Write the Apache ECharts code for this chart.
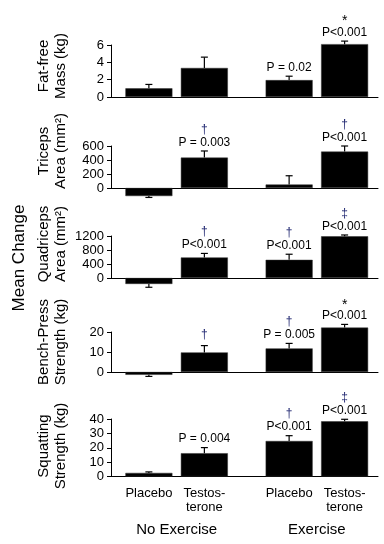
<!DOCTYPE html>
<html><head><meta charset="utf-8">
<script src="https://cdn.jsdelivr.net/npm/echarts@6/dist/echarts.min.js"></script>
<style>html,body{margin:0;padding:0;background:#fff}#c{width:384px;height:544px}</style>
</head><body><div id="c"></div>
<script>
// ---- data ----
const groups = ['No Exercise', 'Exercise'];
const treatments = ['Placebo', 'Testos-\nterone'];
const panelTitles = ['Fat-free\nMass (kg)', 'Triceps\nArea (mm²)', 'Quadriceps\nArea (mm²)', 'Bench-Press\nStrength (kg)', 'Squatting\nStrength (kg)'];
const yAxisTitle = 'Mean Change';
const axisMax = [6, 600, 1200, 20, 40];
const axisStep = [2, 200, 400, 10, 10];
// order in each list: No-Exercise Placebo, No-Exercise Testosterone, Exercise Placebo, Exercise Testosterone
const fatFreeMean = [1.0, 3.35, 1.95, 6.1];
const fatFreeErr = [0.45, 1.25, 0.45, 0.35];
const tricepsMean = [-115, 434, 50, 520];
const tricepsErr = [20, 95, 125, 80];
const quadMean = [-170, 587, 519, 1192];
const quadErr = [95, 115, 160, 37];
const benchMean = [-1.4, 9.8, 11.8, 22.2];
const benchErr = [0.8, 3.4, 2.5, 1.6];
const squatMean = [2.5, 16.2, 24.7, 38.4];
const squatErr = [0.7, 3.9, 3.7, 1.4];
const fatFreeP = ['', '', 'P = 0.02', 'P<0.001'];
const fatFreeSym = ['', '', '', '*'];
const tricepsP = ['', 'P = 0.003', '', 'P<0.001'];
const tricepsSym = ['', '†', '', '†'];
const quadP = ['', 'P<0.001', 'P<0.001', 'P<0.001'];
const quadSym = ['', '†', '†', '‡'];
const benchP = ['', '', 'P = 0.005', 'P<0.001'];
const benchSym = ['', '†', '†', '*'];
const squatP = ['', 'P = 0.004', 'P<0.001', 'P<0.001'];
const squatSym = ['', '', '†', '‡'];

const means = [fatFreeMean, tricepsMean, quadMean, benchMean, squatMean];
const errs = [fatFreeErr, tricepsErr, quadErr, benchErr, squatErr];
const pLabels = [fatFreeP, tricepsP, quadP, benchP, squatP];
const syms = [fatFreeSym, tricepsSym, quadSym, benchSym, squatSym];

// ---- layout (pixels) ----
const FONT = 'Liberation Sans, Arial, Helvetica, sans-serif';
const gridTop = [45, 146, 236, 332, 419];
const gridH = [52, 42, 42, 40, 57.5];
const titleY = [66, 151, 244, 342, 446];
const BAR_W = 47, BAR_OFF = 27.75;
const SYM_COLOR = '#1f2670';

const grids = [], xAxes = [], yAxes = [], series = [], graphics = [];
for (let i = 0; i < 5; i++) {
  const last = i === 4;
  // axis grid
  grids.push({left: 111, width: 267, top: gridTop[i], height: gridH[i], outerBoundsMode: 'none'});
  // bar grid
  grids.push({left: 106.5, width: 280.5, top: gridTop[i], height: gridH[i], outerBoundsMode: 'none'});
  const ga = 2 * i, gb = 2 * i + 1;
  xAxes.push({gridIndex: ga, type: 'category', data: groups, axisLine: {show: true, lineStyle: {color: '#000', width: 1}},
    axisTick: {show: false}, axisLabel: {show: false}, splitLine: {show: false}});
  xAxes.push({gridIndex: gb, type: 'category', data: groups, axisLine: {show: false}, axisTick: {show: false},
    axisLabel: {show: last, margin: 46, fontSize: 15, color: '#000', fontFamily: FONT}, splitLine: {show: false}});
  yAxes.push({gridIndex: ga, type: 'value', min: 0, max: axisMax[i], interval: axisStep[i],
    axisLine: {show: true, lineStyle: {color: '#000', width: 1}},
    axisTick: {show: true, inside: false, length: 4, lineStyle: {color: '#000'}},
    axisLabel: {show: true, fontSize: 13, color: '#000', margin: 7, fontFamily: FONT, formatter: v => String(v)},
    splitLine: {show: false}});
  yAxes.push({gridIndex: gb, type: 'value', min: 0, max: axisMax[i], show: false, splitLine: {show: false}});

  const m = means[i];
  [0, 1].forEach(t => {
    series.push({type: 'bar', xAxisIndex: gb, yAxisIndex: gb, clip: false, barWidth: BAR_W, barGap: '18%',
      data: [m[t], m[2 + t]], itemStyle: {color: '#000', borderColor: '#333', borderWidth: 0.5}, silent: true, animation: false});
  });
  const d = [];
  for (let g = 0; g < 2; g++) for (let t = 0; t < 2; t++) {
    const k = g * 2 + t;
    d.push([g, t, m[k], errs[i][k], k]);
  }
  const pl = pLabels[i], sy = syms[i];
  series.push({type: 'custom', xAxisIndex: gb, yAxisIndex: gb, clip: false, silent: true, animation: false, z: 5,
    data: d,
    renderItem: function (params, api) {
      const g = api.value(0), t = api.value(1), mv = api.value(2), ev = api.value(3), k = api.value(4);
      const cx = api.coord([g, 0])[0] + (t === 0 ? -BAR_OFF : BAR_OFF);
      const yb = api.coord([g, mv])[1];
      const ye = api.coord([g, mv < 0 ? mv - ev : mv + ev])[1];
      const children = [
        {type: 'line', shape: {x1: cx, y1: yb, x2: cx, y2: ye}, style: {stroke: '#000', lineWidth: 1.2}},
        {type: 'line', shape: {x1: cx - 3.5, y1: ye, x2: cx + 3.5, y2: ye}, style: {stroke: '#000', lineWidth: 1.2}}
      ];
      let ty = ye;
      if (pl[k]) {
        children.push({type: 'text', x: cx, y: ye - 8.5, style: {text: pl[k], fontSize: 12, fontFamily: FONT, fill: '#000', align: 'center', verticalAlign: 'middle'}});
        ty = ye - 8.5 - 13;
      } else {
        ty = ye - 11;
      }
      if (sy[k]) {
        const star = sy[k] === '*';
        children.push({type: 'text', x: cx, y: ty + (star ? 2 : 0), style: {text: sy[k], fontSize: star ? 14 : 12, fontFamily: FONT,
          fill: star ? '#000' : SYM_COLOR, align: 'center', verticalAlign: 'middle'}});
      }
      return {type: 'group', children: children};
    }
  });
  if (last) {
    const td = [];
    for (let g = 0; g < 2; g++) for (let t = 0; t < 2; t++) td.push([g, t]);
    series.push({type: 'custom', xAxisIndex: gb, yAxisIndex: gb, clip: false, silent: true, animation: false,
      data: td,
      renderItem: function (params, api) {
        const g = api.value(0), t = api.value(1);
        const p = api.coord([g, 0]);
        const cx = p[0] + (t === 0 ? -BAR_OFF : BAR_OFF);
        return {type: 'text', x: cx, y: p[1] + 9.5, style: {text: treatments[t], fontSize: 13, lineHeight: 14, fontFamily: FONT,
          fill: '#000', align: 'center', verticalAlign: 'top'}};
      }
    });
  }
  graphics.push({type: 'text', x: 52, y: titleY[i], rotation: Math.PI / 2,
    style: {text: panelTitles[i], fontSize: 15, lineHeight: 17, fontFamily: FONT, fill: '#000', align: 'center', verticalAlign: 'middle'}});
}
graphics.push({type: 'text', x: 19, y: 258, rotation: Math.PI / 2,
  style: {text: yAxisTitle, fontSize: 17, fontFamily: FONT, fill: '#000', align: 'center', verticalAlign: 'middle'}});

const chart = echarts.init(document.getElementById('c'), null, {renderer: 'canvas'});
chart.setOption({
  animation: false,
  backgroundColor: '#fff',
  grid: grids, xAxis: xAxes, yAxis: yAxes, series: series, graphic: graphics
});
</script></body></html>
